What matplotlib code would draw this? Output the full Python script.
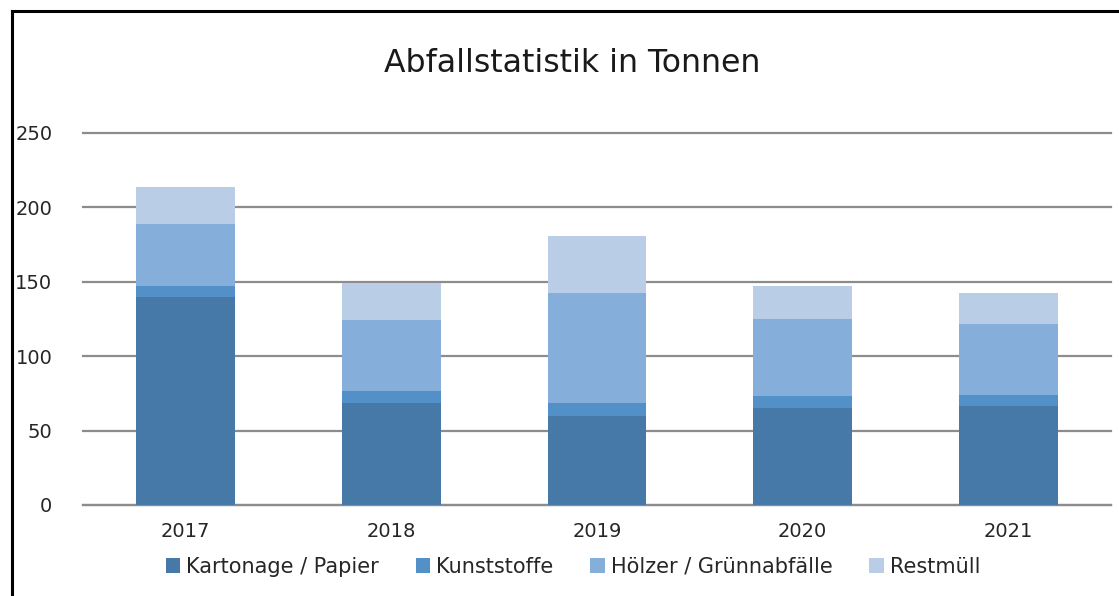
import matplotlib
matplotlib.use("Agg")
import matplotlib.pyplot as plt
from matplotlib.lines import Line2D
import numpy as np

# data (tonnes, stacked segments)
years = ["2017", "2018", "2019", "2020", "2021"]
kartonage = [140.0, 68.6, 59.9, 65.3, 66.4]
kunststoffe = [7.4, 8.1, 8.7, 7.9, 7.4]
hoelzer = [41.3, 47.8, 73.9, 51.6, 47.8]
restmuell = [24.9, 24.5, 38.3, 22.6, 20.7]
labels = ["Kartonage / Papier", "Kunststoffe", "Hölzer / Grünnabfälle", "Restmüll"]
colors = ["#4679a8", "#5290c7", "#85aedb", "#b9cde7"]
yticks = [0, 50, 100, 150, 200, 250]

plt.rcParams['font.family'] = ['DejaVu Sans']

W, H = 1119, 596
fig = plt.figure(figsize=(W / 100, H / 100), dpi=100)
ax = fig.add_axes([83 / W, 1 - 505 / H, (1111 - 83) / W, (505 - 133) / H])

x = np.arange(len(years))
bottom = np.zeros(len(years))
for vals, lab, col in zip([kartonage, kunststoffe, hoelzer, restmuell], labels, colors):
    ax.bar(x, vals, width=0.48, bottom=bottom, color=col, label=lab, zorder=3)
    bottom += np.array(vals)

ax.set_xlim(-0.5, len(years) - 0.5)
ax.set_ylim(0, 250)
ax.set_yticks(yticks)
ax.set_xticks(x)
ax.set_xticklabels(years)
ax.grid(axis='y', color='#8c8c8c', linewidth=1.6, zorder=0)
for gl in ax.get_ygridlines():
    gl.set_clip_on(False)
for s in ['top', 'right', 'left']:
    ax.spines[s].set_visible(False)
ax.spines['bottom'].set_color('#8c8c8c')
ax.spines['bottom'].set_linewidth(1.6)
ax.tick_params(axis='both', length=0, labelsize=14, colors='#262626')
ax.tick_params(axis='y', pad=22)
ax.tick_params(axis='x', pad=12)

fig.text(572 / W, 1 - 63 / H, "Abfallstatistik in Tonnen", ha='center', va='center',
         fontsize=22.7, color='#1a1a1a')

fig.legend(loc='center', bbox_to_anchor=(573 / W, 1 - 567 / H), ncol=4, frameon=False,
           fontsize=15, handlelength=0.7, handleheight=0.7, handletextpad=0.3,
           columnspacing=1.75, labelcolor='#262626')

# outer chart frame (left and top edges visible in the crop)
fig.add_artist(Line2D([11.5 / W, 11.5 / W], [0, 1 - 10.5 / H], transform=fig.transFigure,
                      color='black', linewidth=2.2))
fig.add_artist(Line2D([11.5 / W, 1], [1 - 10.5 / H, 1 - 10.5 / H], transform=fig.transFigure,
                      color='black', linewidth=2.2))

fig.savefig("out.png", dpi=100)
